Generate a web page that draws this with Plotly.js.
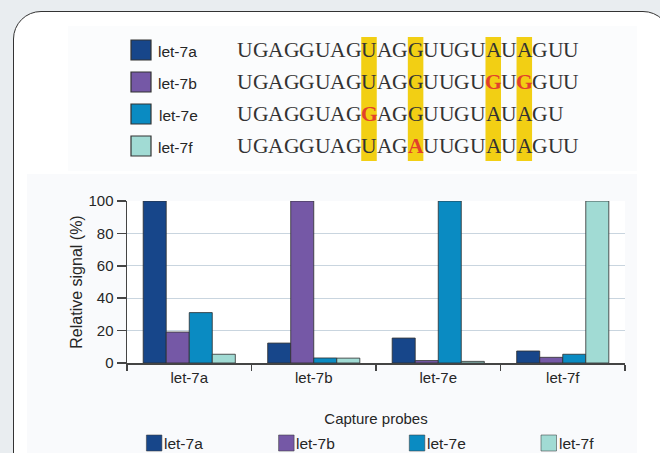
<!DOCTYPE html>
<html>
<head>
<meta charset="utf-8">
<script src="https://cdn.plot.ly/plotly-3.0.1.min.js"></script>
<style>
  html, body { margin: 0; padding: 0; background: #e9edf0; }
  #wrap { position: relative; width: 660px; height: 453px; overflow: hidden; }
  #frame { position: absolute; left: 13px; top: 11px; width: 658px; height: 520px;
           background: #ffffff; border: 1.5px solid #333; border-radius: 28px; box-sizing: border-box; }
  #panelTop { position: absolute; left: 68px; top: 26px; width: 569px; height: 145px; background: #fbfcfd; }
  #panelChart { position: absolute; left: 27px; top: 174px; width: 610px; height: 290px; background: #f9fafc; }
  #chart { position: absolute; left: 0; top: 0; width: 660px; height: 453px; }
</style>
</head>
<body>
<div id="wrap">
  <div id="frame"></div>
  <div id="panelTop"></div>
  <div id="panelChart"></div>
  <div id="chart"></div>
</div>
<script>
// ---------- data ----------
const categories = ['let-7a', 'let-7b', 'let-7e', 'let-7f'];   // capture probes
const seriesNames = ['let-7a', 'let-7b', 'let-7e', 'let-7f'];  // targets
const valuesLet7a = [100, 12.3, 15.4, 7.4];
const valuesLet7b = [19.1, 100, 1.5, 3.5];
const valuesLet7e = [31.1, 3.1, 100, 5.4];
const valuesLet7f = [5.4, 3.0, 1.0, 100];
const yTickVals = [0, 20, 40, 60, 80, 100];
const sequences = [
  'UGAGGUAGUAGGUUGUAUAGUU',
  'UGAGGUAGUAGGUUGUGUGGUU',
  'UGAGGUAGGAGGUUGUAUAGU',
  'UGAGGUAGUAGAUUGUAUAGUU'
];
const mismatchIdx = [[], [16, 18], [8], [11]];
const highlightIdx = [8, 11, 16, 18];
const colors = ['#17468a', '#7558a6', '#0a8bc2', '#a1dbd4'];

// ---------- layout helpers (pixel -> paper) ----------
const L = 127, R = 625, T = 201, B = 363;
const fx = px => (px - L) / (R - L);
const fy = py => (B - py) / (B - T);

const allValues = [valuesLet7a, valuesLet7b, valuesLet7e, valuesLet7f];
const traces = seriesNames.map((n, i) => ({
  type: 'bar', name: n, x: categories, y: allValues[i],
  marker: { color: colors[i], line: { color: 'rgba(45,45,45,0.8)', width: 1 } },
  hoverinfo: 'x+y+name'
}));

const shapes = [];
const annotations = [];
const txt = '#262626';
const sansFont = 'Liberation Sans, Arial, sans-serif';
const serifFont = 'Liberation Serif, DejaVu Serif, serif';

// top panel: sequence legend
const seqX0 = 237.3, charW = 15.53;
const rowY = [49.5, 81.7, 113.5, 145.8];
const sqTop = [40, 72, 104, 136];
highlightIdx.forEach(k => {
  shapes.push({ type: 'rect', xref: 'paper', yref: 'paper',
    x0: fx(seqX0 + k * charW - 0.3), x1: fx(seqX0 + (k + 1) * charW - 0.3),
    y0: fy(37), y1: fy(161), fillcolor: '#f2cf14', line: { width: 0 }, layer: 'below' });
});
seriesNames.forEach((n, i) => {
  shapes.push({ type: 'rect', xref: 'paper', yref: 'paper',
    x0: fx(131), x1: fx(151), y0: fy(sqTop[i]), y1: fy(sqTop[i] + 20),
    fillcolor: colors[i], line: { color: '#333', width: 1.2 } });
  annotations.push({ xref: 'paper', yref: 'paper', x: fx(i === 2 ? 157 : 156), y: fy(rowY[i] + 1.5),
    xanchor: 'left', yanchor: 'middle', showarrow: false, text: n,
    font: { family: sansFont, size: 15.5, color: txt } });
  sequences[i].split('').forEach((c, k) => {
    const red = mismatchIdx[i].includes(k);
    annotations.push({ xref: 'paper', yref: 'paper', x: fx(seqX0 + (k + 0.5) * charW), y: fy(rowY[i] + 0.5),
      xanchor: 'center', yanchor: 'middle', showarrow: false,
      text: red ? '<b>' + c + '</b>' : c,
      font: { family: serifFont, size: 21.5, color: red ? '#e2412b' : '#333' } });
  });
});

// bottom legend
const legX = [146.4, 278.6, 409.3, 541];
seriesNames.forEach((n, i) => {
  shapes.push({ type: 'rect', xref: 'paper', yref: 'paper',
    x0: fx(legX[i]), x1: fx(legX[i] + 15.5), y0: fy(435), y1: fy(451),
    fillcolor: colors[i], line: { color: 'rgba(60,60,60,0.55)', width: 1 } });
  annotations.push({ xref: 'paper', yref: 'paper', x: fx(legX[i] + 15.5), y: fy(443.5),
    xanchor: 'left', yanchor: 'middle', showarrow: false, text: n,
    font: { family: sansFont, size: 15.5, color: txt } });
});

const layout = {
  width: 660, height: 453,
  margin: { l: L, r: 660 - R, t: T, b: 453 - B, pad: 0 },
  paper_bgcolor: 'rgba(0,0,0,0)', plot_bgcolor: '#ffffff',
  showlegend: false,
  barmode: 'group', bargap: 0.26, bargroupgap: 0,
  font: { family: sansFont, color: txt },
  xaxis: {
    type: 'category', categoryarray: categories, tickson: 'boundaries',
    ticks: 'outside', ticklen: 6, tickwidth: 1.5, tickcolor: '#444',
    showline: true, linecolor: '#444', linewidth: 1.5, showgrid: false,
    tickfont: { family: sansFont, size: 15, color: txt },
    title: { text: 'Capture probes', standoff: 29, font: { family: sansFont, size: 15, color: txt } },
    fixedrange: true
  },
  yaxis: {
    range: [0, 100], tickvals: yTickVals, ticks: 'outside', ticklen: 9, tickwidth: 1.5, tickcolor: '#444',
    showline: true, linecolor: '#444', linewidth: 1.5, zeroline: false,
    showgrid: true, gridcolor: '#c9d5df', gridwidth: 1.2,
    tickfont: { family: sansFont, size: 15, color: txt },
    title: { text: 'Relative signal (%)', standoff: 2, font: { family: sansFont, size: 16, color: txt } },
    fixedrange: true
  },
  shapes: shapes,
  annotations: annotations
};

Plotly.newPlot('chart', traces, layout, { displayModeBar: false, staticPlot: true });
</script>
</body>
</html>
